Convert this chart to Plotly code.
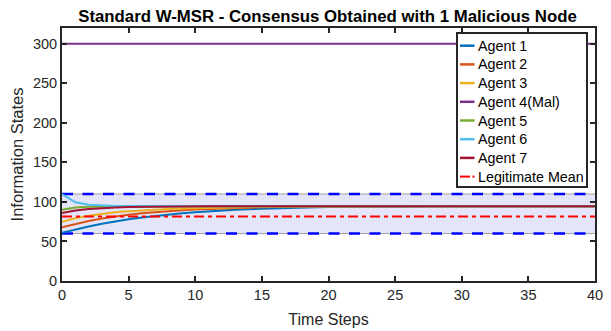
import plotly.graph_objects as go

time_steps = list(range(0, 41))

agent1 = [61, 65.2, 69.0, 72.4, 75.4, 78.0, 80.3, 82.3, 84.1, 85.7, 87.1, 88.3, 89.3, 90.2,
          90.9, 91.5, 92.0, 92.5, 92.9, 93.2, 93.5, 93.7, 93.9, 94.0, 94.1, 94.2, 94.3, 94.4,
          94.4, 94.5, 94.5, 94.5, 94.5, 94.5, 94.5, 94.5, 94.5, 94.5, 94.5, 94.5, 94.5]
agent2 = [68, 72.3, 76.0, 79.1, 81.7, 83.9, 85.7, 87.2, 88.5, 89.6, 90.5, 91.2, 91.8, 92.4,
          92.8, 93.2, 93.5, 93.8, 94.0, 94.1, 94.2, 94.3, 94.4, 94.4, 94.5, 94.5, 94.5, 94.5,
          94.5, 94.5, 94.5, 94.5, 94.5, 94.5, 94.5, 94.5, 94.5, 94.5, 94.5, 94.5, 94.5]
agent3 = [75, 79.3, 82.5, 85.0, 86.9, 88.3, 89.4, 90.3, 91.0, 91.6, 92.1, 92.5, 92.9, 93.2,
          93.5, 93.7, 93.9, 94.0, 94.1, 94.2, 94.3, 94.4, 94.4, 94.5, 94.5, 94.5, 94.5, 94.5,
          94.5, 94.5, 94.5, 94.5, 94.5, 94.5, 94.5, 94.5, 94.5, 94.5, 94.5, 94.5, 94.5]
agent4 = [300, 300, 300, 300, 300, 300, 300, 300, 300, 300, 300, 300, 300, 300, 300, 300, 300,
          300, 300, 300, 300, 300, 300, 300, 300, 300, 300, 300, 300, 300, 300, 300, 300, 300,
          300, 300, 300, 300, 300, 300, 300]
agent5 = [90, 93.0, 93.8, 94.1, 94.3, 94.4, 94.5, 94.5, 94.5, 94.5, 94.5, 94.5, 94.5, 94.5,
          94.5, 94.5, 94.5, 94.5, 94.5, 94.5, 94.5, 94.5, 94.5, 94.5, 94.5, 94.5, 94.5, 94.5,
          94.5, 94.5, 94.5, 94.5, 94.5, 94.5, 94.5, 94.5, 94.5, 94.5, 94.5, 94.5, 94.5]
agent6 = [110, 99.5, 96.5, 95.5, 95.0, 94.8, 94.7, 94.6, 94.5, 94.5, 94.5, 94.5, 94.5, 94.5,
          94.5, 94.5, 94.5, 94.5, 94.5, 94.5, 94.5, 94.5, 94.5, 94.5, 94.5, 94.5, 94.5, 94.5,
          94.5, 94.5, 94.5, 94.5, 94.5, 94.5, 94.5, 94.5, 94.5, 94.5, 94.5, 94.5, 94.5]
agent7 = [86, 89.2, 91.2, 92.4, 93.1, 93.6, 93.9, 94.1, 94.3, 94.4, 94.5, 94.5, 94.5, 94.5,
          94.5, 94.5, 94.5, 94.5, 94.5, 94.5, 94.5, 94.5, 94.5, 94.5, 94.5, 94.5, 94.5, 94.5,
          94.5, 94.5, 94.5, 94.5, 94.5, 94.5, 94.5, 94.5, 94.5, 94.5, 94.5, 94.5, 94.5]
legit_mean_value = 81.5
bound_lower_value = 60
bound_upper_value = 110
x_range = [0, 40]

agent_names = ["Agent 1", "Agent 2", "Agent 3", "Agent 4(Mal)", "Agent 5", "Agent 6", "Agent 7"]
agent_series = [agent1, agent2, agent3, agent4, agent5, agent6, agent7]
agent_colors = ["#0072BD", "#D95319", "#EDB120", "#7E2F8E", "#77AC30", "#4DBEEE", "#A2142F"]
mean_name = "Legitimate Mean"
mean_color = "#FF0000"

x_ticks = [0, 5, 10, 15, 20, 25, 30, 35, 40]
y_ticks = [0, 50, 100, 150, 200, 250, 300]

FONT = "Liberation Sans, Arial, sans-serif"
OFF = 8  # page body margin offset
W, H = 611 - OFF, 331 - OFF
L, R, T, B = 62 - OFF, 16, 28 - OFF, 50
PW, PH = W - L - R, H - T - B


def px_x(px):
    # px given in window coordinates
    return (px - OFF - L) / PW


def px_y(py):
    return (H - B - (py - OFF)) / PH


fig = go.Figure()

# shaded safe region between the bounds
fig.add_trace(go.Scatter(x=x_range, y=[bound_lower_value, bound_lower_value], mode="lines",
                         line=dict(color="rgb(160,160,160)", width=1),
                         showlegend=False, hoverinfo="skip"))
fig.add_trace(go.Scatter(x=x_range, y=[bound_upper_value, bound_upper_value], mode="lines",
                         fill="tonexty", fillcolor="rgb(229,229,250)",
                         line=dict(color="rgb(160,160,160)", width=1),
                         showlegend=False, hoverinfo="skip"))
for b in (bound_lower_value, bound_upper_value):
    fig.add_trace(go.Scatter(x=x_range, y=[b, b], mode="lines",
                             line=dict(color="#0000FF", width=2.5, dash="11px,9.5px"),
                             showlegend=False, hoverinfo="skip"))

for name, ys, c in zip(agent_names, agent_series, agent_colors):
    fig.add_trace(go.Scatter(x=time_steps, y=ys, mode="lines", name=name,
                             line=dict(color=c, width=2), showlegend=False))

fig.add_trace(go.Scatter(x=x_range, y=[legit_mean_value, legit_mean_value], mode="lines",
                         name=mean_name, showlegend=False,
                         line=dict(color=mean_color, width=2, dash="10px,4px,4px,4px")))

# manual legend (MATLAB style, short line samples)
shapes = []
annotations = []
leg_left, leg_right, leg_top, leg_bottom = 457, 587, 33, 187
shapes.append(dict(type="rect", xref="paper", yref="paper", layer="above",
                   x0=px_x(leg_left), x1=px_x(leg_right), y0=px_y(leg_bottom), y1=px_y(leg_top),
                   fillcolor="white", line=dict(color="#262626", width=2)))
leg_names = agent_names + [mean_name]
leg_colors = agent_colors + [mean_color]
for i, (n, c) in enumerate(zip(leg_names, leg_colors)):
    cy = 45.7 + 18.7 * i
    if n == mean_name:
        shapes.append(dict(type="line", xref="paper", yref="paper", layer="above",
                           x0=px_x(460), x1=px_x(470), y0=px_y(cy), y1=px_y(cy),
                           line=dict(color=c, width=2)))
        shapes.append(dict(type="line", xref="paper", yref="paper", layer="above",
                           x0=px_x(472.5), x1=px_x(474.5), y0=px_y(cy), y1=px_y(cy),
                           line=dict(color=c, width=2)))
    else:
        shapes.append(dict(type="line", xref="paper", yref="paper", layer="above",
                           x0=px_x(460), x1=px_x(474.5), y0=px_y(cy), y1=px_y(cy),
                           line=dict(color=c, width=2.5)))
    annotations.append(dict(text=n, xref="paper", yref="paper", x=px_x(475.5), y=px_y(cy),
                            xanchor="left", yanchor="middle", showarrow=False,
                            font=dict(family=FONT, size=14.3, color="black")))

axis_common = dict(showline=True, linecolor="#262626", linewidth=2, mirror="allticks",
                   ticks="inside", ticklen=5, tickwidth=1.5, tickcolor="#262626",
                   showgrid=False, zeroline=False, automargin=False,
                   tickfont=dict(family=FONT, size=14.5, color="#262626"))

fig.update_layout(
    width=W, height=H,
    margin=dict(l=L, r=R, t=T, b=B, pad=0),
    paper_bgcolor="white", plot_bgcolor="white",
    title=dict(text="<b>Standard W-MSR - Consensus Obtained with 1 Malicious Node</b>",
               x=(327.5 - OFF) / W, xref="container", xanchor="center",
               y=(H - (16 - OFF)) / H, yref="container", yanchor="middle",
               automargin=False,
               font=dict(family=FONT, size=16.8, color="black")),
    xaxis=dict(range=[0, 40], tickvals=x_ticks, **axis_common,
               title=dict(text="Time Steps", standoff=11,
                          font=dict(family=FONT, size=16, color="#262626"))),
    yaxis=dict(range=[0, 320], tickvals=y_ticks, **axis_common,
               title=dict(text="Information States", standoff=6,
                          font=dict(family=FONT, size=16.5, color="#262626"))),
    shapes=shapes,
    annotations=annotations,
    showlegend=False,
)

fig.write_html("out.html")
